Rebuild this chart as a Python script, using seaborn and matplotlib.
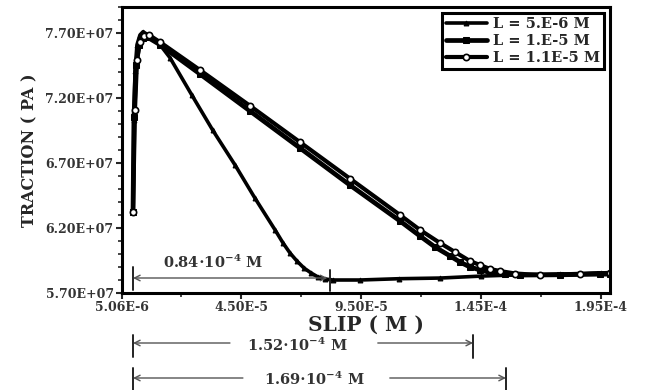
import matplotlib
matplotlib.use('Agg')
import matplotlib.pyplot as plt
import matplotlib.transforms as mtransforms
from matplotlib.ticker import FixedLocator, FixedFormatter, MultipleLocator, NullFormatter
import seaborn as sns

# slip (m) / traction (Pa)
slip_l5 = [0.0, 0.04e-5, 0.083e-5, 0.167e-5, 0.29e-5, 0.42e-5, 0.625e-5, 1.125e-5,
           1.54e-5, 2.46e-5, 3.33e-5, 4.25e-5, 5.08e-5, 5.92e-5, 6.25e-5, 6.54e-5,
           6.83e-5, 7.125e-5, 7.42e-5, 7.71e-5, 8.0e-5, 8.33e-5, 9.46e-5, 11.1e-5,
           12.8e-5, 14.5e-5, 16.1e-5, 17.8e-5, 19.5e-5, 19.9e-5]
trac_l5 = [6.32e7, 7.03e7, 7.41e7, 7.61e7, 7.685e7, 7.71e7, 7.685e7, 7.61e7,
           7.51e7, 7.22e7, 6.95e7, 6.685e7, 6.43e7, 6.185e7, 6.085e7, 6.008e7,
           5.946e7, 5.892e7, 5.854e7, 5.823e7, 5.808e7, 5.80e7, 5.80e7, 5.81e7,
           5.815e7, 5.83e7, 5.84e7, 5.845e7, 5.855e7, 5.855e7]

slip_l10 = [0.0, 0.04e-5, 0.125e-5, 0.25e-5, 0.417e-5, 0.583e-5, 1.125e-5, 2.79e-5,
            4.875e-5, 6.96e-5, 9.04e-5, 11.125e-5, 11.96e-5, 12.58e-5, 13.21e-5,
            13.625e-5, 14.04e-5, 14.46e-5, 14.875e-5, 15.5e-5, 16.125e-5, 17.79e-5,
            19.46e-5, 19.875e-5]
trac_l10 = [6.32e7, 7.05e7, 7.45e7, 7.61e7, 7.66e7, 7.67e7, 7.61e7, 7.385e7,
            7.10e7, 6.815e7, 6.53e7, 6.254e7, 6.138e7, 6.054e7, 5.985e7,
            5.938e7, 5.90e7, 5.877e7, 5.858e7, 5.846e7, 5.838e7, 5.84e7,
            5.845e7, 5.845e7]

slip_l11 = [0.0, 0.083e-5, 0.167e-5, 0.29e-5, 0.458e-5, 0.667e-5, 1.125e-5, 2.79e-5,
            4.875e-5, 6.96e-5, 9.04e-5, 11.125e-5, 11.96e-5, 12.79e-5, 13.42e-5,
            14.04e-5, 14.46e-5, 14.875e-5, 15.29e-5, 15.92e-5, 16.96e-5, 18.625e-5,
            19.875e-5]
trac_l11 = [6.32e7, 7.11e7, 7.49e7, 7.63e7, 7.675e7, 7.685e7, 7.63e7, 7.415e7,
            7.14e7, 6.86e7, 6.58e7, 6.30e7, 6.185e7, 6.085e7, 6.015e7,
            5.946e7, 5.915e7, 5.885e7, 5.869e7, 5.85e7, 5.838e7, 5.845e7,
            5.855e7]

series_labels = ['L = 5.E-6 M', 'L = 1.E-5 M', 'L = 1.1E-5 M']

x_limits = [-4.58e-6, 1.9875e-4]
y_limits = [5.70e7, 7.90e7]
xtick_values = [-4.58e-6, 4.5e-5, 9.5e-5, 1.45e-4, 1.95e-4]
xtick_labels = ['5.06E-6', '4.50E-5', '9.50E-5', '1.45E-4', '1.95E-4']
ytick_values = [5.7e7, 6.2e7, 6.7e7, 7.2e7, 7.7e7]
ytick_labels = ['5.70E+07', '6.20E+07', '6.70E+07', '7.20E+07', '7.70E+07']

sns.set_style('ticks')
plt.rcParams['font.family'] = ['DejaVu Serif']
plt.rcParams['font.weight'] = 'bold'
plt.rcParams['mathtext.fontset'] = 'dejavuserif'
plt.rcParams['mathtext.default'] = 'bf'

fig = plt.figure(figsize=(6.53, 3.90), dpi=100)
ax = fig.add_axes([122 / 653, 97 / 390, 488 / 653, 286 / 390])

sns.lineplot(x=slip_l5, y=trac_l5, ax=ax, sort=False, color='black', lw=2.6,
             marker='^', markersize=3.5, markeredgecolor='black', label=series_labels[0])
sns.lineplot(x=slip_l10, y=trac_l10, ax=ax, sort=False, color='black', lw=3.4,
             marker='s', markersize=4, markeredgecolor='black', label=series_labels[1])
sns.lineplot(x=slip_l11, y=trac_l11, ax=ax, sort=False, color='black', lw=3.0,
             marker='o', markersize=4.5, markerfacecolor='white',
             markeredgecolor='black', markeredgewidth=1.2, label=series_labels[2])

ax.set_xlim(x_limits)
ax.set_ylim(y_limits)
ax.xaxis.set_major_locator(FixedLocator(xtick_values))
ax.xaxis.set_major_formatter(FixedFormatter(xtick_labels))
ax.xaxis.set_minor_locator(FixedLocator([2.0e-5, 7.0e-5, 1.2e-4, 1.7e-4]))
ax.yaxis.set_major_locator(FixedLocator(ytick_values))
ax.yaxis.set_major_formatter(FixedFormatter(ytick_labels))
ax.yaxis.set_minor_locator(MultipleLocator(1e6))
ax.xaxis.set_minor_formatter(NullFormatter())

ax.tick_params(which='major', direction='out', length=4, width=1.5,
               labelsize=9, labelcolor='#333333', pad=2)
ax.tick_params(which='minor', direction='out', length=3, width=1.2)
for s in ax.spines.values():
    s.set_linewidth(2.2)
    s.set_color('black')

ax.set_xlabel('SLIP ( M )', fontsize=14.5, fontweight='bold', labelpad=0)
ax.set_ylabel('TRACTION ( PA )', fontsize=11.5, fontweight='bold', labelpad=5)

leg = ax.legend(loc='upper right', fontsize=10.5, frameon=True, fancybox=False,
                borderaxespad=0.4, borderpad=0.3, labelspacing=0.2,
                handlelength=2.8, handletextpad=0.4)
leg.get_frame().set_edgecolor('black')
leg.get_frame().set_linewidth(2.2)
leg.get_frame().set_alpha(1)

# dimension arrows (x in data units, y in figure fraction)
trans = mtransforms.blended_transform_factory(ax.transData, fig.transFigure)
gray = '#555555'


def fy(py):
    return 1 - py / 390


def bar(x, y0, y1):
    ax.plot([x, x], [fy(y0), fy(y1)], color='#222222', lw=1.4,
            transform=trans, clip_on=False)


def arrow(x_from, x_to, py):
    ax.annotate('', xy=(x_to, fy(py)), xytext=(x_from, fy(py)),
                xycoords=trans, textcoords=trans,
                arrowprops=dict(arrowstyle='->', color=gray, lw=1.0,
                                shrinkA=0, shrinkB=0))


# 0.84e-4 inside the axes
bar(0.0, 267, 290)
bar(8.2e-5, 270, 291)
ax.annotate('', xy=(0.0, fy(278)), xytext=(8.1e-5, fy(278)),
            xycoords=trans, textcoords=trans,
            arrowprops=dict(arrowstyle='<->', color=gray, lw=1.0,
                            shrinkA=0, shrinkB=0))
ax.text(3.33e-5, fy(262), r'0.84$\cdot$10$^{-4}$ M', transform=trans,
        ha='center', va='center', fontsize=10.5, color='#333333')

# 1.52e-4
bar(0.0, 335, 357)
bar(1.417e-4, 335, 358)
arrow(4.04e-5, 0.0, 343)
arrow(1.02e-4, 1.417e-4, 343)
ax.text(6.83e-5, fy(345), r'1.52$\cdot$10$^{-4}$ M', transform=trans,
        ha='center', va='center', fontsize=10.5, color='#333333')

# 1.69e-4
bar(0.0, 368, 390)
bar(1.554e-4, 368, 390)
arrow(4.58e-5, 0.0, 378)
arrow(1.07e-4, 1.554e-4, 378)
ax.text(7.54e-5, fy(379), r'1.69$\cdot$10$^{-4}$ M', transform=trans,
        ha='center', va='center', fontsize=10.5, color='#333333')

fig.savefig('out.png', dpi=100)
